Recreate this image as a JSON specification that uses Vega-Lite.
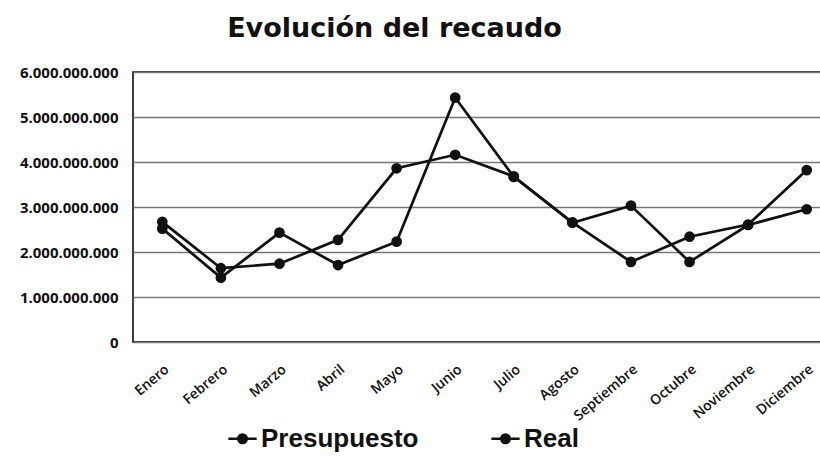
{
  "$schema": "https://vega.github.io/schema/vega-lite/v6.json",
  "width": 703,
  "height": 270,
  "padding": {"top": 15, "left": 19, "right": 0, "bottom": 0},
  "config": {
    "locale": {"number": {"decimal": ",", "thousands": ".", "grouping": [3], "currency": ["$", ""]}},
    "view": {"stroke": "black", "strokeWidth": 1.5},
    "font": "Liberation Sans"
  },
  "title": {
    "text": "Evolución del recaudo",
    "fontSize": 27,
    "font": "DejaVu Sans",
    "fontWeight": "bold",
    "color": "#111",
    "anchor": "middle",
    "dx": -90,
    "offset": 22
  },
  "data": {
    "values": [
      {"mes": "Enero", "serie": "Presupuesto", "valor": 2670000000},
      {"mes": "Febrero", "serie": "Presupuesto", "valor": 1640000000},
      {"mes": "Marzo", "serie": "Presupuesto", "valor": 1740000000},
      {"mes": "Abril", "serie": "Presupuesto", "valor": 2270000000},
      {"mes": "Mayo", "serie": "Presupuesto", "valor": 3860000000},
      {"mes": "Junio", "serie": "Presupuesto", "valor": 4160000000},
      {"mes": "Julio", "serie": "Presupuesto", "valor": 3680000000},
      {"mes": "Agosto", "serie": "Presupuesto", "valor": 2650000000},
      {"mes": "Septiembre", "serie": "Presupuesto", "valor": 3030000000},
      {"mes": "Octubre", "serie": "Presupuesto", "valor": 1780000000},
      {"mes": "Noviembre", "serie": "Presupuesto", "valor": 2600000000},
      {"mes": "Diciembre", "serie": "Presupuesto", "valor": 2950000000},
      {"mes": "Enero", "serie": "Real", "valor": 2520000000},
      {"mes": "Febrero", "serie": "Real", "valor": 1430000000},
      {"mes": "Marzo", "serie": "Real", "valor": 2430000000},
      {"mes": "Abril", "serie": "Real", "valor": 1710000000},
      {"mes": "Mayo", "serie": "Real", "valor": 2230000000},
      {"mes": "Junio", "serie": "Real", "valor": 5430000000},
      {"mes": "Julio", "serie": "Real", "valor": 3670000000},
      {"mes": "Agosto", "serie": "Real", "valor": 2660000000},
      {"mes": "Septiembre", "serie": "Real", "valor": 1780000000},
      {"mes": "Octubre", "serie": "Real", "valor": 2340000000},
      {"mes": "Noviembre", "serie": "Real", "valor": 2610000000},
      {"mes": "Diciembre", "serie": "Real", "valor": 3820000000}
    ]
  },
  "encoding": {
    "x": {
      "field": "mes",
      "type": "nominal",
      "sort": null,
      "title": null,
      "axis": {
        "labelAngle": -40,
        "labelAlign": "right",
        "labelBaseline": "top",
        "labelFont": "Open Sans",
        "labelFontSize": 14,
        "labelFontWeight": 600,
        "labelColor": "#111",
        "labelPadding": 20,
        "labelDx": 10,
        "ticks": false,
        "domain": false,
        "grid": false
      }
    },
    "y": {
      "field": "valor",
      "type": "quantitative",
      "title": null,
      "scale": {"domain": [0, 6000000000]},
      "axis": {
        "values": [0, 1000000000, 2000000000, 3000000000, 4000000000, 5000000000, 6000000000],
        "format": ",d",
        "labelFont": "Open Sans",
        "labelFontSize": 15,
        "labelFontWeight": "bold",
        "labelColor": "#111",
        "labelPadding": 15,
        "ticks": false,
        "domain": false,
        "grid": true,
        "gridColor": "#777",
        "gridWidth": 1.5
      }
    },
    "detail": {"field": "serie"},
    "color": {
      "field": "serie",
      "type": "nominal",
      "scale": {"range": ["#111", "#111"]},
      "legend": {
        "title": null,
        "orient": "none",
        "legendX": 94,
        "legendY": 351,
        "direction": "horizontal",
        "labelFont": "Liberation Sans",
        "labelFontSize": 26,
        "labelFontWeight": "bold",
        "labelColor": "#111",
        "symbolType": "M-1,0H1M-0.3,0A0.3,0.3 0 1,0 0.3,0A0.3,0.3 0 1,0 -0.3,0Z",
        "symbolSize": 800,
        "symbolStrokeWidth": 2.5,
        "symbolFillColor": "#111",
        "symbolStrokeColor": "#111",
        "columnPadding": 67,
        "labelOffset": 3
      }
    }
  },
  "layer": [
    {"mark": {"type": "line", "strokeWidth": 2.7}},
    {"mark": {"type": "point", "filled": true, "size": 115, "opacity": 1}}
  ]
}
